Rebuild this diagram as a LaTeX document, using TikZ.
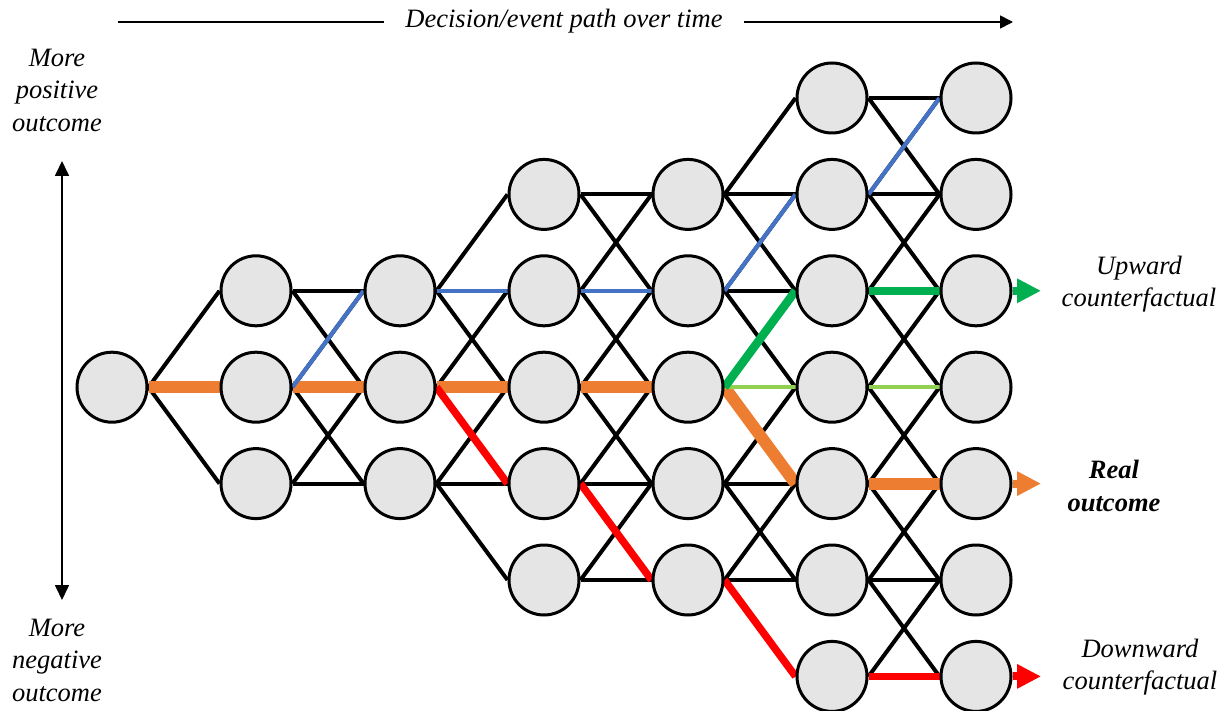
\documentclass[tikz,border=0pt]{standalone}
\usepackage{fontspec}
\setmainfont{Liberation Serif}
\usetikzlibrary{arrows.meta,backgrounds}
\definecolor{nodefill}{HTML}{E5E5E5}
\definecolor{corange}{HTML}{ED7D31}
\definecolor{cblue}{HTML}{4472C4}
\definecolor{cred}{HTML}{FF0000}
\definecolor{cgreen}{HTML}{00B050}
\definecolor{clgreen}{HTML}{92D050}
\tikzset{
  dot/.style={circle,draw=black,line width=3pt,fill=nodefill,minimum size=70pt,inner sep=0pt},
  edge/.style={draw=black,line width=4pt},
  orangepath/.style={draw=corange,line width=12pt},
  redpath/.style={draw=cred,line width=7.5pt},
  bluepath/.style={draw=cblue,line width=4.2pt},
  greenpath/.style={draw=cgreen,line width=8.5pt},
  lgreenpath/.style={draw=clgreen,line width=4.2pt},
  outarrow/.style={-{Triangle[length=24pt,width=23pt]}},
  lbl/.style={font=\itshape\fontsize{26.5}{32.5}\selectfont,align=center,inner sep=0pt},
  blbl/.style={font=\bfseries\itshape\fontsize{26.5}{32.5}\selectfont,align=center,inner sep=0pt},
  thinarrow/.style={draw=black,line width=1.7pt},
}
\begin{document}
\begin{tikzpicture}[x=1pt,y=-1pt]
\useasboundingbox (0,0) rectangle (1229,711);
% nodes
\foreach \c/\rmin/\rmax in {0/3/3,1/2/4,2/2/4,3/1/5,4/1/5,5/0/6,6/0/6}{
  \foreach \r in {\rmin,...,\rmax}{
    \node[dot] (n-\c-\r) at ({112+144*\c},{98+96.4*\r}) {};
  }
}
% black edges
\begin{scope}[on background layer]
\foreach \c/\rmin/\rmax/\nmin/\nmax in {0/3/3/2/4,1/2/4/2/4,2/2/4/1/5,3/1/5/1/5,4/1/5/0/6,5/0/6/0/6}{
  \pgfmathtruncatemacro{\nc}{\c+1}
  \foreach \r in {\rmin,...,\rmax}{
    \foreach \d in {-1,0,1}{
      \pgfmathtruncatemacro{\t}{\r+\d}
      \ifnum\t<\nmin\relax\else\ifnum\t>\nmax\relax\else
        \draw[edge] (n-\c-\r.east) -- (n-\nc-\t.west);
      \fi\fi
    }
  }
}
% orange real path
\draw[orangepath] (n-0-3.east) -- (n-1-3.west);
\draw[orangepath] (n-1-3.east) -- (n-2-3.west);
\draw[orangepath] (n-2-3.east) -- (n-3-3.west);
\draw[orangepath] (n-3-3.east) -- (n-4-3.west);
\draw[orangepath] (n-4-3.east) -- (n-5-4.west);
\draw[orangepath] (n-5-4.east) -- (n-6-4.west);
% blue path
\draw[bluepath] (n-1-3.east) -- (n-2-2.west);
\draw[bluepath] (n-2-2.east) -- (n-3-2.west);
\draw[bluepath] (n-3-2.east) -- (n-4-2.west);
\draw[bluepath] (n-4-2.east) -- (n-5-1.west);
\draw[bluepath] (n-5-1.east) -- (n-6-0.west);
% red path
\draw[redpath] (n-2-3.east) -- (n-3-4.west);
\draw[redpath] (n-3-4.east) -- (n-4-5.west);
\draw[redpath] (n-4-5.east) -- (n-5-6.west);
\draw[redpath] (n-5-6.east) -- (n-6-6.west);
% green paths
\draw[lgreenpath] (n-4-3.east) -- (n-5-3.west);
\draw[lgreenpath] (n-5-3.east) -- (n-6-3.west);
\draw[greenpath] (n-4-3.east) -- (n-5-2.west);
\draw[greenpath] (n-5-2.east) -- (n-6-2.west);
\end{scope}
% output arrows
\coordinate (upend) at (1041,{98+96.4*2});
\coordinate (realend) at (1041,{98+96.4*4});
\coordinate (downend) at (1041,{98+96.4*6});
\draw[draw=cgreen,line width=8pt,outarrow,cgreen] (n-6-2.east) -- (upend);
\draw[draw=corange,line width=8pt,outarrow,corange] (n-6-4.east) -- (realend);
\draw[draw=cred,line width=8pt,outarrow,cred] (n-6-6.east) -- (downend);
% right labels
\node[lbl] (uplbl) at (1139,284) {Upward\\counterfactual};
\node[blbl] (reallbl) at (1114,486) {Real\\outcome};
\node[lbl] (downlbl) at (1140,667) {Downward\\counterfactual};
% top time arrow
\node[lbl,inner xsep=21pt] (timelbl) at (564,21) {Decision/event path over time};
\coordinate (tl) at (118,22);
\coordinate (tr) at (1013,22);
\draw[thinarrow] (tl) -- (tl -| timelbl.west);
\draw[thinarrow,-{Triangle[length=13pt,width=13pt]}] (timelbl.east |- tr) -- (tr);
% left vertical arrow
\node[lbl] (poslbl) at (57,90) {More\\positive\\outcome};
\node[lbl] (neglbl) at (57,660) {More\\negative\\outcome};
\coordinate (vtop) at (62,161);
\coordinate (vbot) at (62,600);
\draw[thinarrow,{Triangle[length=15pt,width=14pt]}-{Triangle[length=15pt,width=14pt]}] (vtop) -- (vbot);
\end{tikzpicture}
\end{document}
